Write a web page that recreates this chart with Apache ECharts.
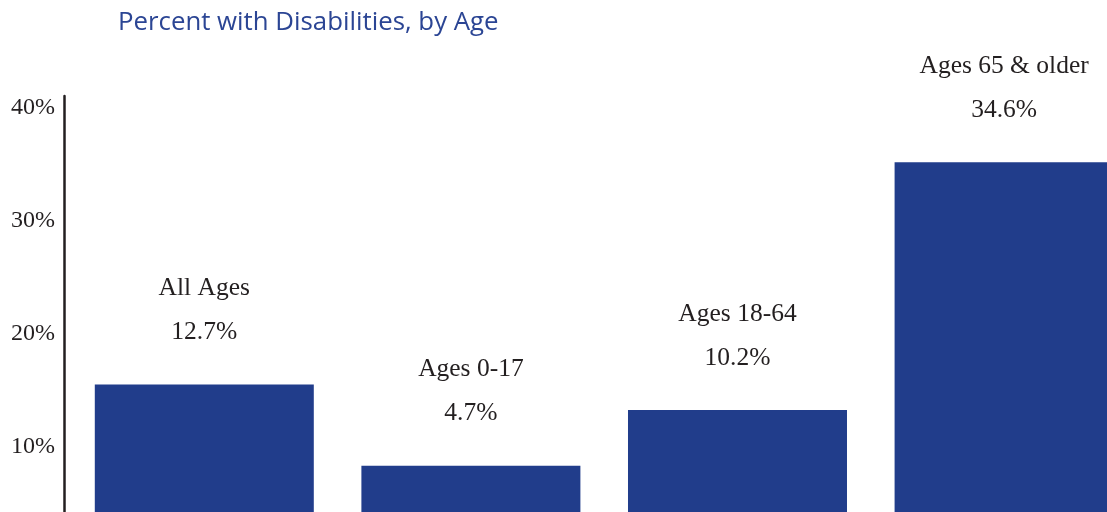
<!DOCTYPE html>
<html>
<head>
<meta charset="utf-8">
<script src="https://cdn.jsdelivr.net/npm/echarts@6/dist/echarts.min.js"></script>
<style>html,body{margin:0;padding:0;background:#fff}#c{width:1107px;height:512px}</style>
</head>
<body>
<div id="c"></div>
<script>
const titleText = 'Percent with Disabilities, by Age';
const categories = ['All Ages', 'Ages 0-17', 'Ages 18-64', 'Ages 65 & older'];
const values = [12.7, 4.7, 10.2, 34.6];
const tickValues = [10, 20, 30, 40];

const chart = echarts.init(document.getElementById('c'));
const serif = '"Liberation Serif", "DejaVu Serif", serif';
// bars placed at category centres (index + 0.5) on a value x axis so the last bar can run off the edge
const barData = values.map((v, i) => [i + 0.5, v]);
chart.setOption({
  animation: false,
  backgroundColor: '#ffffff',
  title: {
    text: titleText,
    left: 113,
    top: 5,
    textStyle: { fontFamily: '"Open Sans", "Noto Sans", sans-serif', fontWeight: 'normal', fontSize: 25.8, color: '#2b4594' }
  },
  grid: [
    { left: 71, right: 0, top: 96, bottom: 0, containLabel: false },
    { left: 64, right: 0, top: 96, bottom: 0, containLabel: false }
  ],
  xAxis: [
    {
      type: 'value', gridIndex: 0, min: 0, max: 3.886,
      axisLine: { show: false }, axisTick: { show: false }, axisLabel: { show: false }, splitLine: { show: false }
    },
    {
      type: 'value', gridIndex: 1, min: 0, max: 1,
      axisLine: { show: false }, axisTick: { show: false }, axisLabel: { show: false }, splitLine: { show: false }
    }
  ],
  yAxis: [
    {
      type: 'value', gridIndex: 1, position: 'left',
      min: 4.248, max: 41.06,
      axisLine: { show: true, lineStyle: { color: '#231f20', width: 2.5 } },
      axisTick: { show: false }, splitLine: { show: false },
      axisLabel: {
        customValues: tickValues,
        margin: 9, fontFamily: serif, fontSize: 24, color: '#231f20',
        formatter: v => v + '%'
      }
    },
    {
      type: 'value', gridIndex: 0, min: 0.148, max: 41.13,
      show: false, splitLine: { show: false }
    }
  ],
  series: [{
    type: 'bar',
    xAxisIndex: 0,
    yAxisIndex: 1,
    data: barData,
    barWidth: 219,
    itemStyle: { color: '#213d8b' },
    label: {
      show: true, position: 'top', distance: 30,
      formatter: p => '{n|' + categories[p.dataIndex] + '}\n{v|' + values[p.dataIndex].toFixed(1) + '%}',
      rich: {
        n: { fontFamily: serif, fontSize: 25.5, color: '#231f20', lineHeight: 44 },
        v: { fontFamily: serif, fontSize: 25.5, color: '#231f20', lineHeight: 44 }
      }
    }
  }]
});
</script>
</body>
</html>
